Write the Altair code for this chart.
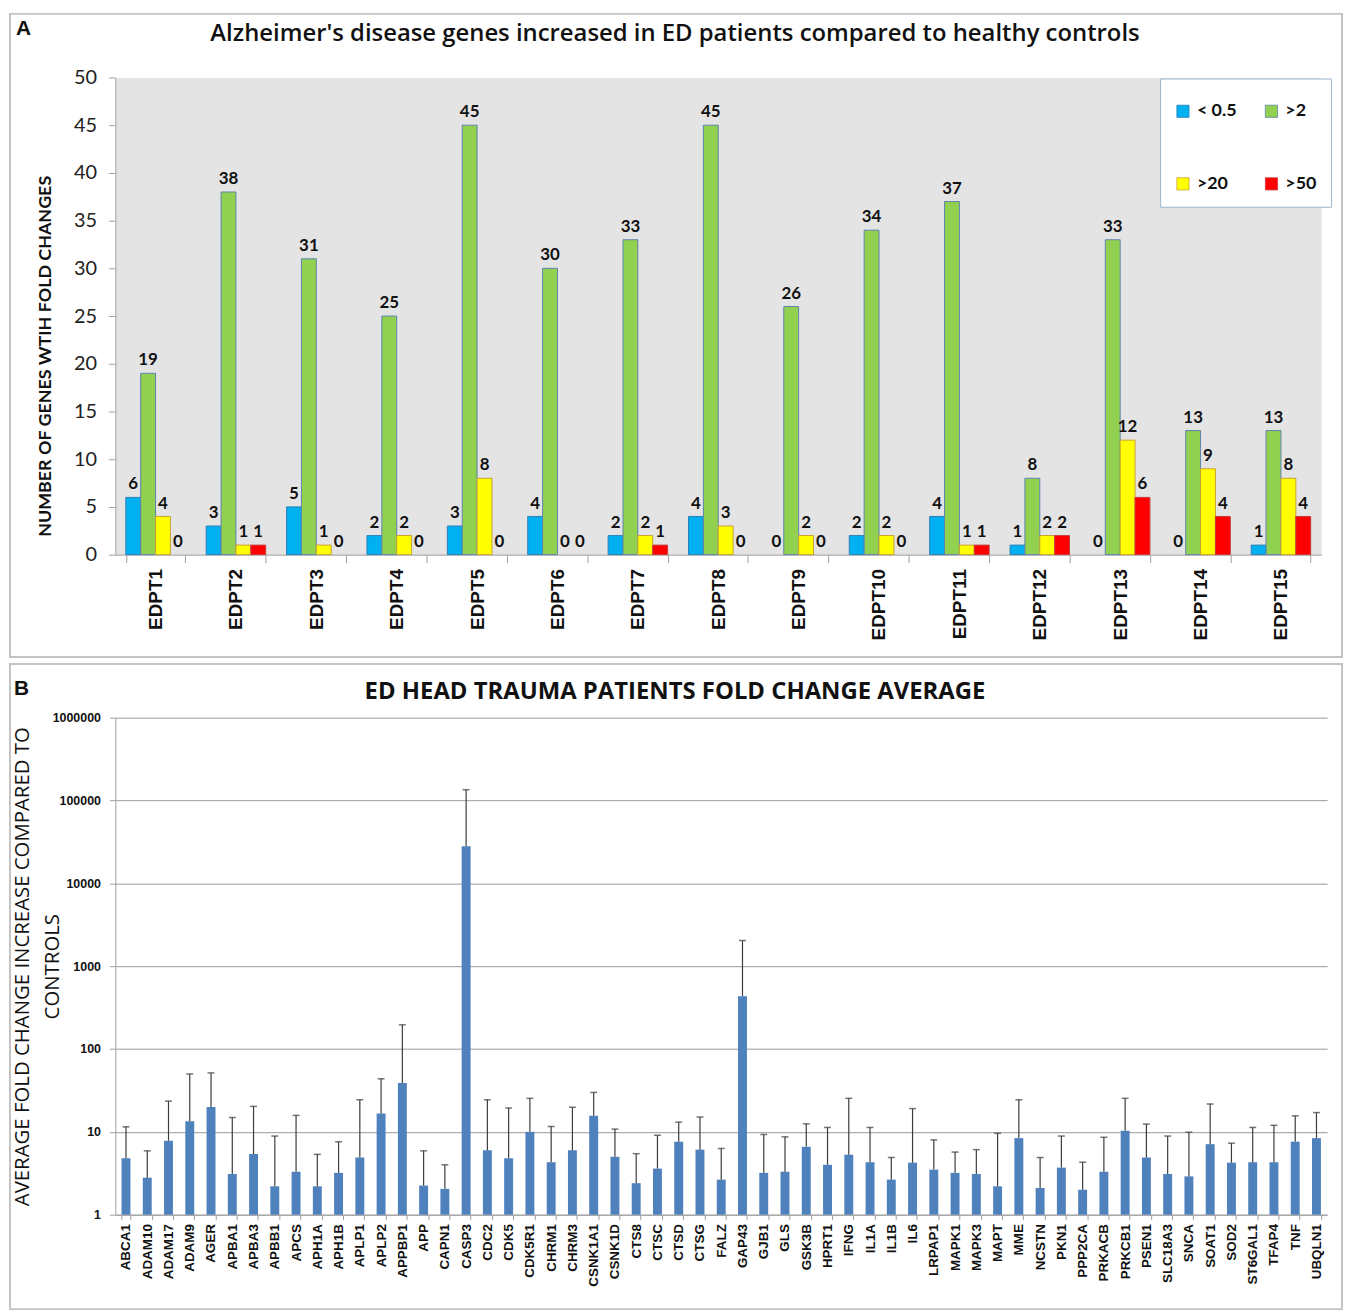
import altair as alt
import pandas as pd

# ---------------- Panel A data ----------------
patients = ["EDPT1", "EDPT2", "EDPT3", "EDPT4", "EDPT5", "EDPT6", "EDPT7", "EDPT8",
            "EDPT9", "EDPT10", "EDPT11", "EDPT12", "EDPT13", "EDPT14", "EDPT15"]
lt05 = [6, 3, 5, 2, 3, 4, 2, 4, 0, 2, 4, 1, 0, 0, 1]
gt2 = [19, 38, 31, 25, 45, 30, 33, 45, 26, 34, 37, 8, 33, 13, 13]
gt20 = [4, 1, 1, 2, 8, 0, 2, 3, 2, 2, 1, 2, 12, 9, 8]
gt50 = [0, 1, 0, 0, 0, 0, 1, 0, 0, 0, 1, 2, 6, 4, 4]
series_names = ["< 0.5", ">2", ">20", ">50"]
series_colors = ["#00B0F0", "#92D050", "#FFFF00", "#FF0000"]
series_strokes = ["#2E7FB8", "#5F83AE", "#C9A030", "#C83A3A"]
title_a = "Alzheimer's disease genes increased in ED patients compared to healthy controls"

# ---------------- Panel B data ----------------
genes = ["ABCA1", "ADAM10", "ADAM17", "ADAM9", "AGER", "APBA1", "APBA3", "APBB1", "APCS",
         "APH1A", "APH1B", "APLP1", "APLP2", "APPBP1", "APP", "CAPN1", "CASP3", "CDC2", "CDK5",
         "CDK5R1", "CHRM1", "CHRM3", "CSNK1A1", "CSNK1D", "CTS8", "CTSC", "CTSD", "CTSG", "FALZ",
         "GAP43", "GJB1", "GLS", "GSK3B", "HPRT1", "IFNG", "IL1A", "IL1B", "IL6",
         "LRPAP1", "MAPK1", "MAPK3", "MAPT", "MME", "NCSTN", "PKN1", "PPP2CA", "PRKACB", "PRKCB1",
         "PSEN1", "SLC18A3", "SNCA", "SOAT1", "SOD2", "ST6GAL1", "TFAP4", "TNF", "UBQLN1"]
avg_fold = [4.8, 2.8, 7.8, 13.4, 20, 3.1, 5.4, 2.2, 3.3,
            2.2, 3.2, 4.9, 16.6, 39, 2.25, 2.05, 28000, 6.0, 4.8,
            10, 4.3, 6.0, 15.6, 5.0, 2.4, 3.6, 7.6, 6.1, 2.65,
            434, 3.2, 3.3, 6.6, 4.0, 5.3, 4.3, 2.65, 4.25,
            3.5, 3.2, 3.1, 2.2, 8.4, 2.1, 3.7, 2.0, 3.3, 10.3,
            4.9, 3.1, 2.9, 7.1, 4.25, 4.3, 4.3, 7.6, 8.4]
err_top = [11.5, 5.9, 23.5, 50, 51.5, 14.9, 20.3, 8.9, 15.8,
           5.35, 7.6, 24.4, 43.7, 196, 5.9, 4.0, 135000, 24.4, 19.4,
           25.4, 11.6, 19.8, 29.9, 10.8, 5.45, 9.1, 13.1, 15.1, 6.3,
           2040, 9.3, 8.7, 12.5, 11.3, 25.4, 11.3, 4.9, 19.1,
           8.0, 5.7, 6.1, 9.6, 24.4, 4.9, 8.9, 4.3, 8.6, 25.4,
           12.4, 8.9, 9.9, 21.7, 7.3, 11.3, 12.0, 15.6, 17.1]
y_ticks_b = [1, 10, 100, 1000, 10000, 100000, 1000000]
title_b = "ED HEAD TRAUMA PATIENTS FOLD CHANGE AVERAGE"

rowsA = []
for i, p in enumerate(patients):
    for s, vals in zip(series_names, [lt05, gt2, gt20, gt50]):
        rowsA.append({"patient": p, "series": s, "count": vals[i]})
dfA = pd.DataFrame(rowsA)
dfB = pd.DataFrame({"gene": genes, "avg": avg_fold, "err": err_top, "base": [1] * len(genes)})
one = pd.DataFrame({"k": [1]})

WA, HA = 1213, 480
WB, HB = 1219, 500

# ---------------- Panel A ----------------
baseA = alt.Chart(dfA).encode(
    x=alt.X("patient:N", sort=patients, title=None,
            scale=alt.Scale(paddingInner=0.26, paddingOuter=0.13),
            axis=alt.Axis(labelAngle=-90, labelFont="Liberation Sans", labelFontWeight="bold",
                          labelFontSize=19, labelColor="#111", tickBand="extent", tickSize=8,
                          tickColor="#a0a0a0", domainColor="#a0a0a0", labelPadding=6)),
    xOffset=alt.XOffset("series:N", sort=series_names,
                        scale=alt.Scale(domain=series_names, paddingInner=0, paddingOuter=0)),
    y=alt.Y("count:Q", scale=alt.Scale(domain=[0, 50], nice=False),
            axis=alt.Axis(values=list(range(0, 51, 5)), grid=False,
                          title="NUMBER OF GENES WTIH FOLD CHANGES", titleFont="Lato",
                          titleFontWeight="bold", titleFontSize=18, titleColor="#111",
                          titleX=-79, titleY=280, titleBaseline="top", titleAngle=-90,
                          labelFont="Lato", labelFontSize=20, labelColor="#222",
                          tickSize=7, tickColor="#a0a0a0", domainColor="#a0a0a0", labelPadding=12)),
)
barsA = baseA.transform_filter("datum.count > 0").mark_bar(strokeWidth=1).encode(
    color=alt.Color("series:N", sort=series_names,
                    scale=alt.Scale(domain=series_names, range=series_colors),
                    legend=alt.Legend(title=" ", titleFontSize=8, titlePadding=2,
                                      orient="none", legendX=1051, legendY=1,
                                      columns=2, direction="horizontal",
                                      symbolType="square", symbolSize=150,
                                      symbolStrokeColor="#707070", symbolStrokeWidth=0.8,
                                      labelFont="Lato", labelFontWeight="bold", labelFontSize=18,
                                      labelColor="#111", labelOffset=5,
                                      rowPadding=55, columnPadding=26, padding=14,
                                      fillColor="white", strokeColor="#9DB3D0")),
    stroke=alt.Stroke("series:N", scale=alt.Scale(domain=series_names, range=series_strokes),
                      legend=None),
)
labelsA = baseA.mark_text(font="Lato", fontWeight="bold", fontSize=17, baseline="alphabetic",
                          dy=-8, color="#111").encode(text="count:Q")
frameA = alt.Chart(one).mark_rect(fillOpacity=0, stroke="#c4c4c4", strokeWidth=2).encode(
    x=alt.value(-106), x2=alt.value(1234), y=alt.value(-64), y2=alt.value(583))
letterA = alt.Chart(one).mark_text(text="A", font="Liberation Sans", fontWeight="bold", fontSize=21,
                                   align="left", baseline="top", color="#111").encode(
    x=alt.value(-100), y=alt.value(-60))
titleA = alt.Chart(one).mark_text(text=title_a, font="Open Sans", fontWeight=600, fontSize=24,
                                  align="center", baseline="middle", color="#111").encode(
    x=alt.value(563), y=alt.value(-44))

panelA = alt.layer(barsA, labelsA, frameA, letterA, titleA).properties(
    width=WA, height=HA,
    view=alt.ViewBackground(fill="#e4e4e4", stroke="transparent"),
)

# ---------------- Panel B ----------------
ylog = alt.Scale(type="log", domain=[1, 1000000], nice=False)
baseB = alt.Chart(dfB).encode(
    x=alt.X("gene:N", sort=genes, title=None,
            scale=alt.Scale(paddingInner=0.58, paddingOuter=0.29),
            axis=alt.Axis(labelAngle=-90, labelFont="Liberation Sans", labelFontWeight="bold",
                          labelFontSize=13.5, labelColor="#111", tickBand="extent", tickSize=5,
                          tickColor="#a0a0a0", domainColor="#a0a0a0", labelPadding=4)),
)
barsB = baseB.mark_bar(color="#4F81BD").encode(
    y=alt.Y("avg:Q", scale=ylog,
            axis=alt.Axis(values=y_ticks_b, format="d", grid=True, gridColor="#9a9a9a",
                          title=["AVERAGE FOLD CHANGE INCREASE COMPARED TO", "CONTROLS"],
                          titleFont="Open Sans", titleFontSize=20.5, titleFontWeight="normal",
                          titleColor="#111", titleLineHeight=30, titleAngle=-90,
                          titleX=-103, titleY=250, titleBaseline="top",
                          labelFont="Liberation Sans", labelFontWeight="bold", labelFontSize=12.5,
                          labelColor="#111", tickSize=6, tickColor="#a0a0a0",
                          domainColor="#a0a0a0", labelPadding=9)),
    y2="base:Q",
)
errB = baseB.mark_rule(color="#3c3c3c", strokeWidth=1.2).encode(
    y=alt.Y("avg:Q", scale=ylog), y2="err:Q")
capB = baseB.mark_tick(color="#3c3c3c", thickness=1.5, size=7).encode(
    y=alt.Y("err:Q", scale=ylog))
frameB = alt.Chart(one).mark_rect(fillOpacity=0, stroke="#c4c4c4", strokeWidth=2).encode(
    x=alt.value(-106), x2=alt.value(1234), y=alt.value(-54), y2=alt.value(595))
letterB = alt.Chart(one).mark_text(text="B", font="Liberation Sans", fontWeight="bold", fontSize=21,
                                   align="left", baseline="top", color="#111").encode(
    x=alt.value(-102), y=alt.value(-40))
titleB = alt.Chart(one).mark_text(text=title_b, font="Open Sans", fontWeight="bold", fontSize=24,
                                  align="center", baseline="middle", color="#111").encode(
    x=alt.value(563), y=alt.value(-26))

panelB = alt.layer(barsB, errB, capB, frameB, letterB, titleB).properties(
    width=WB, height=HB,
    view=alt.ViewBackground(fill="white", stroke="transparent"),
)

chart = alt.vconcat(panelA, panelB, spacing=3).properties(
    padding=0, background="white"
).configure_view(stroke="transparent")

chart.save("out.html", embed_options={"renderer": "svg", "actions": False})
